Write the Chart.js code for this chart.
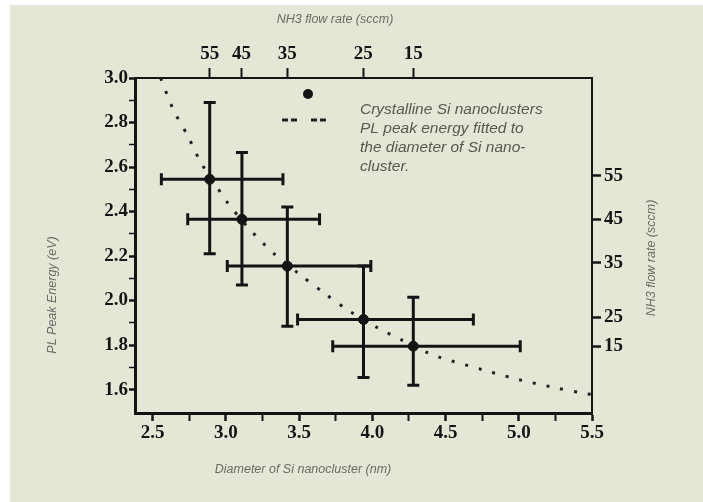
<!DOCTYPE html>
<html>
<head>
<meta charset="utf-8">
<script src="https://cdn.jsdelivr.net/npm/chart.js@4.4.1/dist/chart.umd.min.js"></script>
<style>
  html, body { margin: 0; padding: 0; background: #fff; }
  canvas { display: block; }
</style>
</head>
<body>
<canvas id="pl-chart" width="703" height="502"></canvas>
<script>
// measured points: Si nanocluster diameter (nm) vs PL peak energy (eV)
const diameter = [2.89, 3.11, 3.42, 3.94, 4.28];
const energy = [2.545, 2.365, 2.155, 1.915, 1.795];
const diameterLow = [2.56, 2.74, 3.01, 3.49, 3.73];
const diameterHigh = [3.39, 3.64, 3.99, 4.69, 5.01];
const energyLow = [2.21, 2.07, 1.885, 1.655, 1.62];
const energyHigh = [2.89, 2.665, 2.42, 2.155, 2.015];

// fitted curve
const fitDiameter = [2.555, 2.64, 2.74, 2.83, 2.94, 3.0, 3.15, 3.33, 3.5, 3.68, 3.85, 4.03, 4.21, 4.38, 4.46, 4.75, 5.0, 5.26, 5.44, 5.5];
const fitEnergy = [3.0, 2.86, 2.74, 2.62, 2.51, 2.45, 2.33, 2.21, 2.12, 2.03, 1.95, 1.88, 1.82, 1.765, 1.745, 1.69, 1.645, 1.607, 1.584, 1.578];

// axis ticks
const diameterTicks = [2.5, 2.75, 3.0, 3.25, 3.5, 3.75, 4.0, 4.25, 4.5, 4.75, 5.0, 5.25, 5.5];
const energyTicks = [1.6, 1.7, 1.8, 1.9, 2.0, 2.1, 2.2, 2.3, 2.4, 2.5, 2.6, 2.7, 2.8, 2.9, 3.0];
const flowLabels = ['55', '45', '35', '25', '15'];
const flowTopPos = [2.89, 3.107, 3.42, 3.938, 4.279];
const flowRightPos = [2.56, 2.366, 2.169, 1.926, 1.796];

const legendLines = ['Crystalline Si nanoclusters', 'PL peak energy fitted to', 'the diameter of Si nano-', 'cluster.'];

const ink = '#141414';
const tickFont = { family: '"Liberation Serif", "DejaVu Serif", serif', weight: 'bold', size: 19 };
const titleFont = 'italic 12.5px "Liberation Sans", Arial, sans-serif';

const isMajor = (v, step) => Math.abs(v / step - Math.round(v / step)) < 1e-6;

const background = {
    id: 'background',
    beforeDraw(chart) {
        const ctx = chart.ctx;
        ctx.save();
        ctx.fillStyle = '#fff';
        ctx.fillRect(0, 0, chart.width, chart.height);
        ctx.fillStyle = '#e6e6d7';
        ctx.fillRect(10, 5, chart.width - 10, chart.height - 5);
        ctx.restore();
    }
};

const errorBars = {
    id: 'errorBars',
    beforeDatasetsDraw(chart) {
        const { ctx, scales: { x, y } } = chart;
        const cap = 6;
        ctx.save();
        ctx.strokeStyle = ink;
        ctx.lineWidth = 3;
        diameter.forEach((d, i) => {
            const px = x.getPixelForValue(d);
            const py = y.getPixelForValue(energy[i]);
            const xl = x.getPixelForValue(diameterLow[i]);
            const xr = x.getPixelForValue(diameterHigh[i]);
            const yt = y.getPixelForValue(energyHigh[i]);
            const yb = y.getPixelForValue(energyLow[i]);
            ctx.beginPath();
            ctx.moveTo(xl, py); ctx.lineTo(xr, py);
            ctx.moveTo(xl, py - cap); ctx.lineTo(xl, py + cap);
            ctx.moveTo(xr, py - cap); ctx.lineTo(xr, py + cap);
            ctx.moveTo(px, yt); ctx.lineTo(px, yb);
            ctx.moveTo(px - cap, yt); ctx.lineTo(px + cap, yt);
            ctx.moveTo(px - cap, yb); ctx.lineTo(px + cap, yb);
            ctx.stroke();
        });
        ctx.restore();
    }
};

const labels = {
    id: 'labels',
    afterDraw(chart) {
        const ctx = chart.ctx;
        ctx.save();
        ctx.fillStyle = '#6b6b66';
        ctx.font = titleFont;
        ctx.textAlign = 'center';
        ctx.textBaseline = 'middle';
        ctx.fillText('NH3 flow rate (sccm)', 335, 20);
        ctx.fillText('Diameter of Si nanocluster (nm)', 303, 470);
        ctx.save();
        ctx.translate(53, 295);
        ctx.rotate(-Math.PI / 2);
        ctx.fillText('PL Peak Energy (eV)', 0, 0);
        ctx.restore();
        ctx.save();
        ctx.translate(652, 258);
        ctx.rotate(-Math.PI / 2);
        ctx.fillText('NH3 flow rate (sccm)', 0, 0);
        ctx.restore();

        // legend
        ctx.fillStyle = ink;
        ctx.beginPath();
        ctx.arc(308, 94, 5, 0, Math.PI * 2);
        ctx.fill();
        ctx.strokeStyle = '#222';
        ctx.lineWidth = 3;
        ctx.setLineDash([6, 3, 6, 14]);
        ctx.beginPath();
        ctx.moveTo(282, 120);
        ctx.lineTo(340, 120);
        ctx.stroke();
        ctx.setLineDash([]);
        ctx.fillStyle = '#58584f';
        ctx.font = 'italic 15.5px "Liberation Sans", Arial, sans-serif';
        ctx.textAlign = 'left';
        legendLines.forEach((t, i) => ctx.fillText(t, 360, 110 + i * 19));
        ctx.restore();
    }
};

const setTicks = values => scale => { scale.ticks = values.map(v => ({ value: v })); };

new Chart(document.getElementById('pl-chart'), {
    type: 'scatter',
    data: {
        datasets: [
            {
                label: 'Crystalline Si nanoclusters',
                data: diameter.map((d, i) => ({ x: d, y: energy[i] })),
                backgroundColor: ink,
                borderColor: ink,
                pointRadius: 5,
                pointHoverRadius: 5
            },
            {
                type: 'line',
                label: 'PL peak energy fit',
                data: fitDiameter.map((d, i) => ({ x: d, y: fitEnergy[i] })),
                borderColor: '#222',
                borderWidth: 3,
                borderDash: [3, 11],
                pointRadius: 0,
                tension: 0.3,
                fill: false
            }
        ]
    },
    options: {
        responsive: false,
        animation: false,
        events: [],
        layout: { padding: 0 },
        plugins: { legend: { display: false }, tooltip: { enabled: false } },
        scales: {
            x: {
                type: 'linear',
                position: 'bottom',
                min: 2.38,
                max: 5.5,
                afterBuildTicks: setTicks(diameterTicks),
                afterFit: s => { s.height = 89; },
                border: { display: true, color: ink, width: 3 },
                grid: { drawOnChartArea: false, tickLength: 8, tickColor: ink, tickWidth: c => isMajor(c.tick.value, 0.5) ? 2.5 : 2 },
                ticks: {
                    font: tickFont, color: ink, padding: 1, maxRotation: 0, autoSkip: false,
                    callback: v => isMajor(v, 0.5) ? v.toFixed(1) : ''
                }
            },
            x2: {
                type: 'linear',
                position: 'top',
                min: 2.38,
                max: 5.5,
                afterBuildTicks: setTicks(flowTopPos),
                afterFit: s => { s.height = 78; },
                border: { display: true, color: ink, width: 2 },
                grid: { drawOnChartArea: false, tickLength: 10, tickColor: ink, tickWidth: 2 },
                ticks: {
                    font: tickFont, color: ink, padding: 3, maxRotation: 0, autoSkip: false,
                    callback: (v, i) => flowLabels[i]
                }
            },
            y: {
                type: 'linear',
                position: 'left',
                min: 1.495,
                max: 3.0,
                afterBuildTicks: setTicks(energyTicks),
                afterFit: s => { s.width = 135; },
                border: { display: true, color: ink, width: 3 },
                grid: { drawOnChartArea: false, tickLength: 6, tickColor: ink, tickWidth: c => isMajor(c.tick.value, 0.2) ? 2.5 : 1.5 },
                ticks: {
                    font: tickFont, color: ink, padding: 1, autoSkip: false,
                    callback: v => isMajor(v, 0.2) ? v.toFixed(1) : ''
                }
            },
            y2: {
                type: 'linear',
                position: 'right',
                min: 1.495,
                max: 3.0,
                afterBuildTicks: setTicks(flowRightPos.slice().reverse()),
                afterFit: s => { s.width = 111; },
                border: { display: true, color: ink, width: 2 },
                grid: { drawOnChartArea: false, tickLength: 9, tickColor: ink, tickWidth: 2.5 },
                ticks: {
                    font: tickFont, color: ink, padding: 3, autoSkip: false,
                    callback: (v, i) => flowLabels.slice().reverse()[i]
                }
            }
        }
    },
    plugins: [background, errorBars, labels]
});
</script>
</body>
</html>
